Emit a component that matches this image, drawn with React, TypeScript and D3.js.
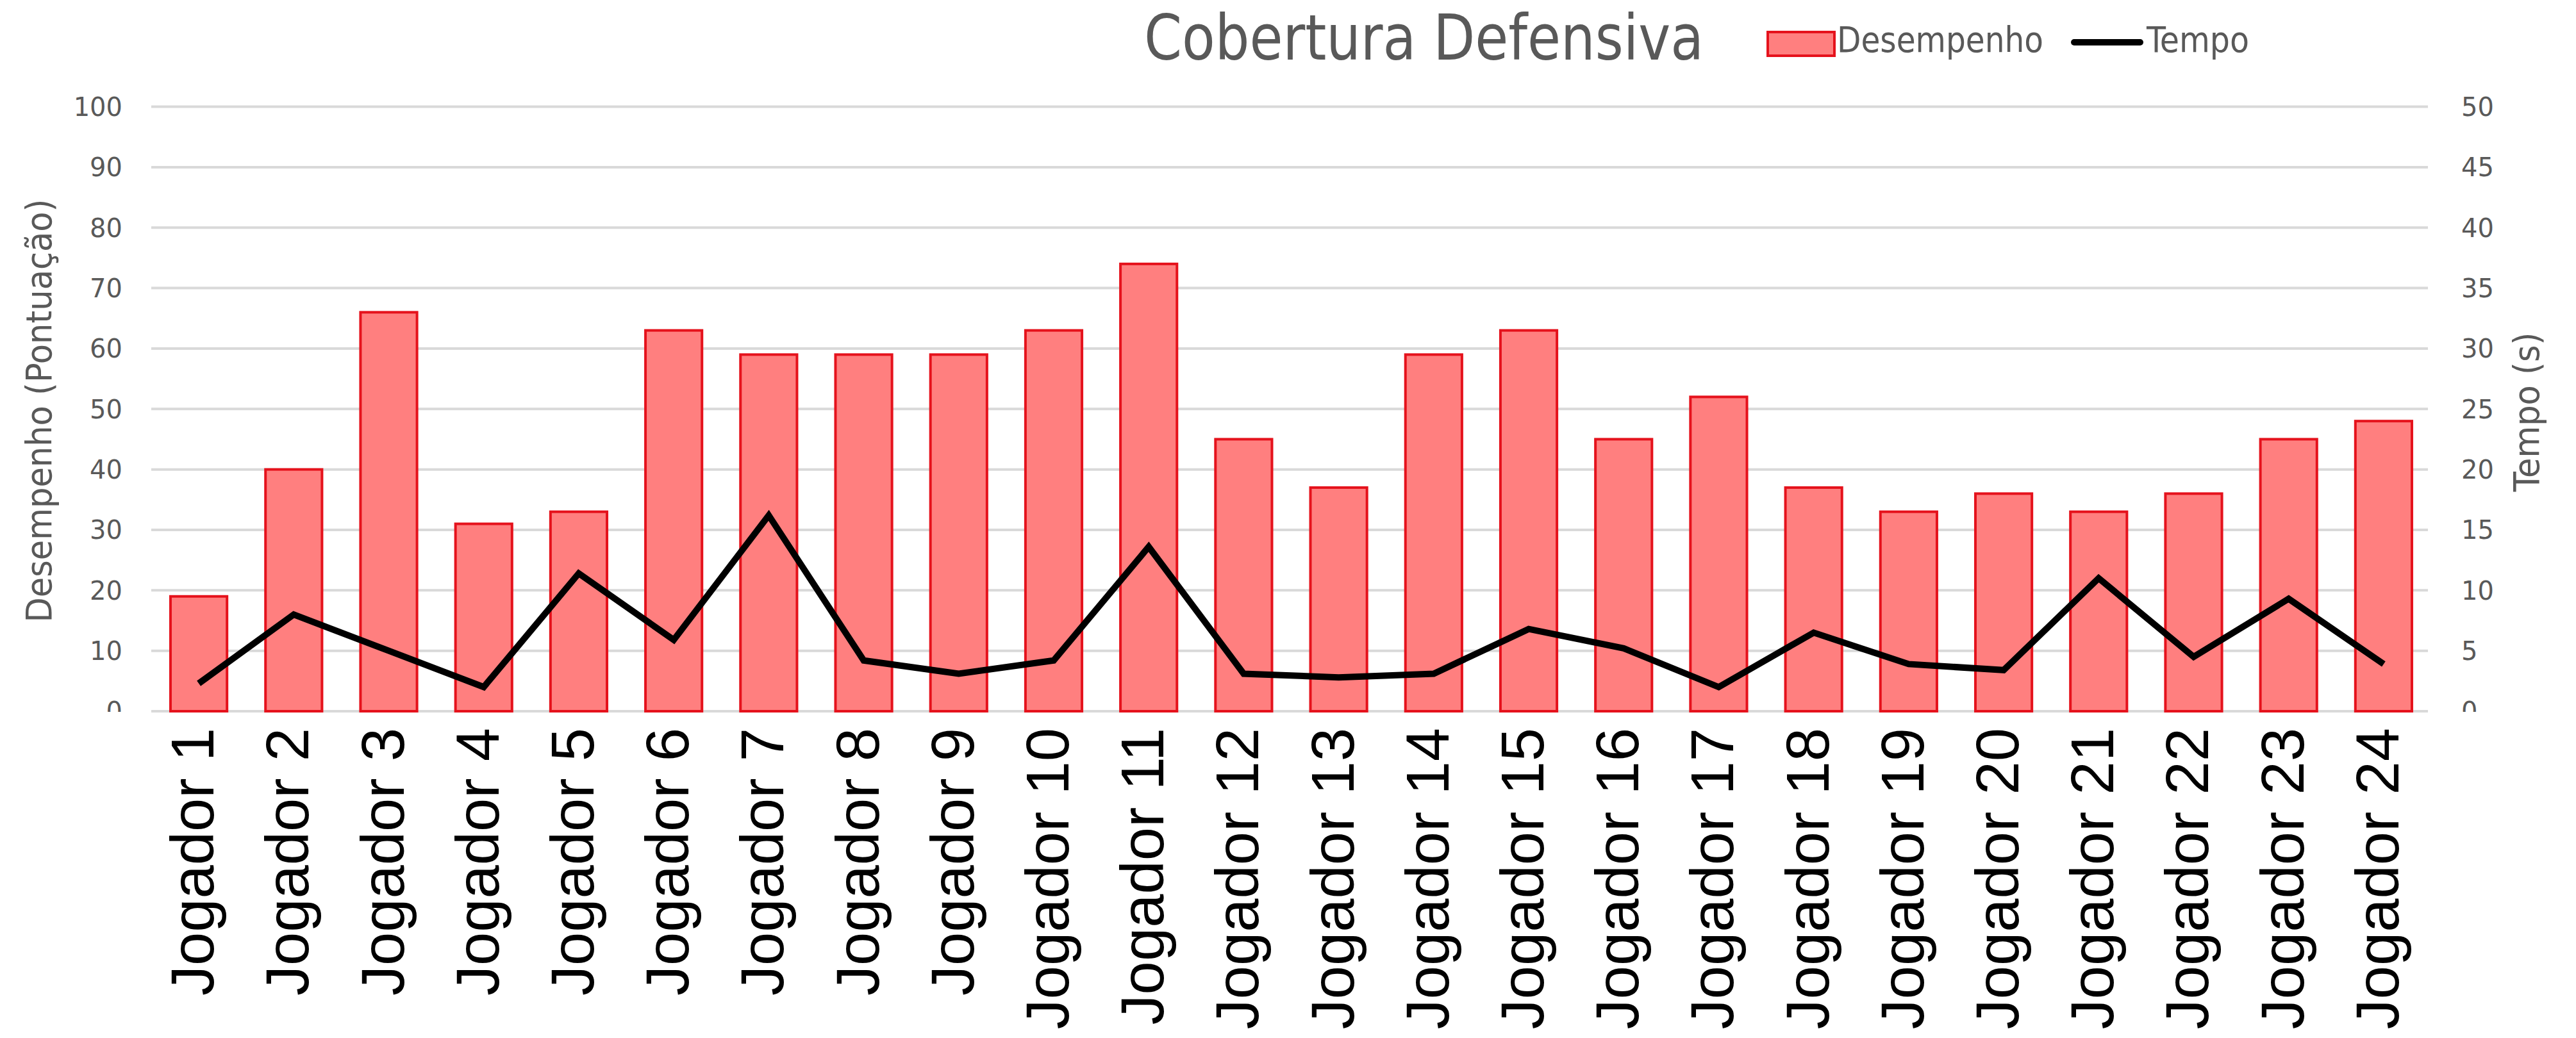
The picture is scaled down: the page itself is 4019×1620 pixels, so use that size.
import * as d3 from 'd3';
import { useEffect, useRef } from 'react';

const jogadores = [
  'Jogador 1', 'Jogador 2', 'Jogador 3', 'Jogador 4', 'Jogador 5', 'Jogador 6',
  'Jogador 7', 'Jogador 8', 'Jogador 9', 'Jogador 10', 'Jogador 11', 'Jogador 12',
  'Jogador 13', 'Jogador 14', 'Jogador 15', 'Jogador 16', 'Jogador 17', 'Jogador 18',
  'Jogador 19', 'Jogador 20', 'Jogador 21', 'Jogador 22', 'Jogador 23', 'Jogador 24',
];
const desempenho = [19, 40, 66, 31, 33, 63, 59, 59, 59, 63, 74, 45, 37, 59, 63, 45, 52, 37, 33, 36, 33, 36, 45, 48];
const tempo = [2.3, 8.0, 5.0, 2.0, 11.4, 5.9, 16.2, 4.2, 3.1, 4.2, 13.6, 3.1, 2.8, 3.1, 6.8, 5.2, 2.0, 6.5, 3.9, 3.4, 11.0, 4.5, 9.3, 3.9];
const leftTicks = [0, 10, 20, 30, 40, 50, 60, 70, 80, 90, 100];
const rightTicks = [0, 5, 10, 15, 20, 25, 30, 35, 40, 45, 50];

const TITLE_FONT = "'Liberation Sans Narrow', 'DejaVu Sans Condensed', 'Noto Sans', sans-serif";
const GRAY = '#595959';

const App = () => {
  const ref = useRef<SVGSVGElement>(null);

  useEffect(() => {
    const width = 4019;
    const height = 1620;
    const plot = { left: 236, right: 3793, top: 166.6, bottom: 1110 };

    const svg = d3.select(ref.current);
    svg.selectAll('*').remove();
    svg.attr('width', width).attr('height', height);

    const x = d3.scaleBand<string>().domain(jogadores).range([plot.left, plot.right])
      .paddingInner(0.405).paddingOuter(0.2025);
    const yL = d3.scaleLinear().domain([0, 100]).range([plot.bottom, plot.top]);
    const yR = d3.scaleLinear().domain([0, 50]).range([plot.bottom, plot.top]);

    // gridlines
    svg.append('g').selectAll('line').data(leftTicks).join('line')
      .attr('x1', plot.left).attr('x2', plot.right - 5)
      .attr('y1', d => yL(d)).attr('y2', d => yL(d))
      .attr('stroke', '#d9d9d9').attr('stroke-width', 4);

    // tick labels (the 0s are cut at the bottom in the original)
    const defs = svg.append('defs');
    defs.append('clipPath').attr('id', 'tickclip').append('rect')
      .attr('x', 0).attr('y', 0).attr('width', width).attr('height', 1111);
    const ticks = svg.append('g').attr('clip-path', 'url(#tickclip)')
      .style('font-family', "'DejaVu Sans', Verdana, sans-serif").style('font-size', '40px').attr('fill', GRAY);
    ticks.selectAll('text.l').data(leftTicks).join('text').attr('class', 'l')
      .attr('x', 191).attr('y', d => yL(d)).attr('dy', '0.36em').attr('text-anchor', 'end')
      .text(d => d);
    ticks.selectAll('text.r').data(rightTicks).join('text').attr('class', 'r')
      .attr('x', 3840).attr('y', d => yR(d)).attr('dy', '0.36em').attr('text-anchor', 'start')
      .text(d => d);

    // bars
    svg.append('g').selectAll('rect').data(desempenho).join('rect')
      .attr('x', (d, i) => x(jogadores[i])!)
      .attr('y', d => yL(d))
      .attr('width', x.bandwidth())
      .attr('height', d => plot.bottom - yL(d))
      .attr('fill', '#ff7f7f')
      .attr('stroke', '#e5121c').attr('stroke-width', 4);

    // line
    const line = d3.line<number>()
      .x((d, i) => x(jogadores[i])! + x.bandwidth() / 2)
      .y(d => yR(d));
    svg.append('path').datum(tempo).attr('d', line)
      .attr('fill', 'none').attr('stroke', '#000').attr('stroke-width', 10)
      .attr('stroke-linejoin', 'miter').attr('stroke-linecap', 'butt');

    // x labels
    svg.append('g').selectAll('text').data(jogadores).join('text')
      .attr('transform', d => `translate(${x(d)! + x.bandwidth() / 2 + 23},1136) rotate(-90)`)
      .attr('text-anchor', 'end')
      .style('font-family', "'Liberation Sans', Arial, sans-serif").style('font-size', '94px')
      .attr('fill', '#000')
      .text(d => d);

    // title
    svg.append('text').attr('x', 1785).attr('y', 93)
      .attr('textLength', 873).attr('lengthAdjust', 'spacingAndGlyphs')
      .style('font-family', TITLE_FONT).style('font-size', '98px').attr('fill', GRAY)
      .text('Cobertura Defensiva');

    // legend
    const lg = svg.append('g').style('font-family', TITLE_FONT).style('font-size', '56px').attr('fill', GRAY);
    lg.append('rect').attr('x', 2758).attr('y', 50).attr('width', 104).attr('height', 37)
      .attr('fill', '#ff7f7f').attr('stroke', '#e5121c').attr('stroke-width', 4);
    lg.append('text').attr('x', 2866).attr('y', 81)
      .attr('textLength', 322).attr('lengthAdjust', 'spacingAndGlyphs').text('Desempenho');
    lg.append('line').attr('x1', 3236).attr('x2', 3339).attr('y1', 66).attr('y2', 66)
      .attr('stroke', '#000').attr('stroke-width', 10).attr('stroke-linecap', 'round');
    lg.append('text').attr('x', 3349).attr('y', 81)
      .attr('textLength', 160).attr('lengthAdjust', 'spacingAndGlyphs').text('Tempo');

    // axis titles
    svg.append('text').attr('transform', 'translate(80,641) rotate(-90)')
      .attr('text-anchor', 'middle').attr('textLength', 661).attr('lengthAdjust', 'spacingAndGlyphs')
      .style('font-family', TITLE_FONT).style('font-size', '56px').attr('fill', GRAY)
      .text('Desempenho (Pontuação)');
    svg.append('text').attr('transform', 'translate(3961,643) rotate(-90)')
      .attr('text-anchor', 'middle').attr('textLength', 249).attr('lengthAdjust', 'spacingAndGlyphs')
      .style('font-family', TITLE_FONT).style('font-size', '56px').attr('fill', GRAY)
      .text('Tempo (s)');
  }, []);

  return (
    <div style={{ position: 'absolute', left: 0, top: 0 }}>
      <svg ref={ref} style={{ display: 'block', background: '#fff' }}></svg>
    </div>
  );
};

export default App;
